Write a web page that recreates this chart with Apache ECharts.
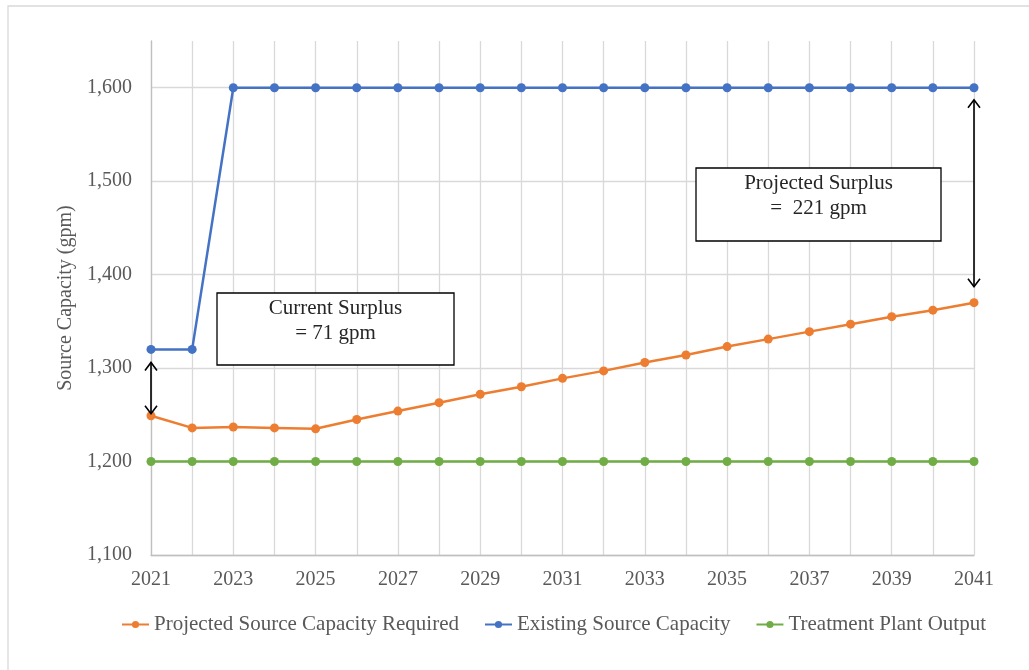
<!DOCTYPE html>
<html><head><meta charset="utf-8">
<script src="https://cdn.jsdelivr.net/npm/echarts@6/dist/echarts.min.js"></script>
<style>html,body{margin:0;padding:0;background:#fff}#c{width:1029px;height:670px}</style>
</head><body><div id="c"></div>
<script>
const years = ['2021','2022','2023','2024','2025','2026','2027','2028','2029','2030','2031','2032','2033','2034','2035','2036','2037','2038','2039','2040','2041'];
const projectedRequired = [1249,1236,1237,1236,1235,1245,1254,1263,1272,1280,1289,1297,1306,1314,1323,1331,1339,1347,1355,1362,1370];
const existingCapacity = [1320,1320,1600,1600,1600,1600,1600,1600,1600,1600,1600,1600,1600,1600,1600,1600,1600,1600,1600,1600,1600];
const plantOutput = [1200,1200,1200,1200,1200,1200,1200,1200,1200,1200,1200,1200,1200,1200,1200,1200,1200,1200,1200,1200,1200];
const seriesNames = ['Projected Source Capacity Required','Existing Source Capacity','Treatment Plant Output'];
const colors = ['#ED7D31','#4472C4','#70AD47'];
const yAxisName = 'Source Capacity (gpm)';
const note1 = ['Current Surplus', '= 71 gpm'];
const note2 = ['Projected Surplus', '=  221 gpm'];

const FONT = '"Liberation Serif", "DejaVu Serif", serif';
const chart = echarts.init(document.getElementById('c'));
const mk = (name, data, color) => ({
  name, type: 'line', data, color,
  symbol: 'circle', symbolSize: 9,
  lineStyle: { width: 2.5, color }, itemStyle: { color },
  emphasis: { disabled: true }, animation: false
});
chart.setOption({
  animation: false,
  grid: { left: 151, right: 55, top: 41, bottom: 115 },
  legend: {
    bottom: 30, left: 116, itemGap: 25, itemWidth: 27, itemHeight: 9,
    textStyle: { fontFamily: FONT, fontSize: 21, color: '#595959' },
    data: seriesNames
  },
  xAxis: {
    type: 'category', data: years, boundaryGap: false,
    axisLine: { lineStyle: { color: '#BFBFBF', width: 1.3 } },
    axisTick: { show: false },
    axisLabel: { interval: 1, margin: 15, fontFamily: FONT, fontSize: 20, color: '#595959' },
    splitLine: { show: true, interval: 0, lineStyle: { color: '#D9D9D9', width: 1.3 } }
  },
  yAxis: {
    type: 'value', min: 1100, max: 1650, interval: 100,
    name: yAxisName, nameLocation: 'middle', nameGap: 73, nameRotate: 90,
    nameTextStyle: { fontFamily: FONT, fontSize: 20, color: '#595959' },
    axisLine: { show: true, lineStyle: { color: '#BFBFBF', width: 1.3 } },
    axisTick: { show: false },
    axisLabel: { margin: 19, showMaxLabel: false, fontFamily: FONT, fontSize: 20, color: '#595959',
      formatter: v => v > 1600 ? '' : v.toLocaleString('en-US') },
    splitLine: { show: true, showMaxLine: false, lineStyle: { color: '#D9D9D9', width: 1.3 } }
  },
  series: [
    mk(seriesNames[0], projectedRequired, colors[0]),
    mk(seriesNames[1], existingCapacity, colors[1]),
    mk(seriesNames[2], plantOutput, colors[2])
  ]
});

function arrow(x, y1, y2) {
  const h = 8, w = 6;
  return [
    { type: 'line', shape: { x1: x, y1: y1, x2: x, y2: y2 }, style: { stroke: '#000', lineWidth: 1.6 }, z: 100 },
    { type: 'polyline', shape: { points: [[x - w, y1 + h], [x, y1], [x + w, y1 + h]] }, style: { stroke: '#000', lineWidth: 1.6, fill: null }, z: 100 },
    { type: 'polyline', shape: { points: [[x - w, y2 - h], [x, y2], [x + w, y2 - h]] }, style: { stroke: '#000', lineWidth: 1.6, fill: null }, z: 100 }
  ];
}
function box(x, y, w, h, lines) {
  return [
    { type: 'rect', shape: { x, y, width: w, height: h }, style: { fill: '#fff', stroke: '#000', lineWidth: 1.3 }, z: 100 },
    { type: 'text', x: x + w / 2, y: y + 3, style: { text: lines.join('\n'), fontFamily: FONT, fontSize: 21, lineHeight: 25, fill: '#262626', align: 'center', verticalAlign: 'top' }, z: 101 }
  ];
}
const p = (i, v) => chart.convertToPixel({ gridIndex: 0 }, [i, v]);
const a1t = p(0, existingCapacity[0]), a1b = p(0, projectedRequired[0]);
const n = years.length - 1;
const a2t = p(n, existingCapacity[n]), a2b = p(n, projectedRequired[n]);
chart.setOption({
  graphic: [
    { type: 'rect', shape: { x: 8, y: 6, width: 1100, height: 800 }, style: { fill: null, stroke: '#D9D9D9', lineWidth: 1.3 }, z: 0, silent: true },
    ...arrow(a1t[0], a1t[1] + 13, a1b[1] - 2),
    ...arrow(a2t[0], a2t[1] + 12, a2b[1] - 16),
    ...box(217, 293, 237, 72, note1),
    ...box(696, 168, 245, 73, note2)
  ]
});
</script></body></html>
